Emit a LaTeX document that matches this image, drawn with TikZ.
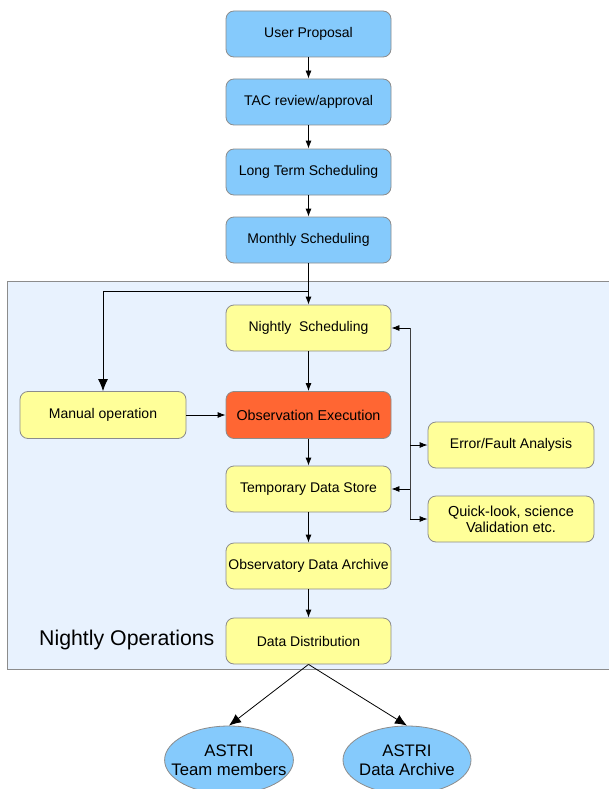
\documentclass[tikz,border=0pt]{standalone}
\usepackage{fontspec}
\setmainfont{Liberation Sans}
\usetikzlibrary{arrows.meta,shapes.geometric}
\definecolor{boxblue}{HTML}{85CAFC}
\definecolor{boxyellow}{HTML}{FFFF99}
\definecolor{boxorange}{HTML}{FF6633}
\definecolor{panel}{HTML}{E8F2FE}
\definecolor{edge}{HTML}{8C8C8C}
\tikzset{
  base/.style={draw=edge, line width=0.8pt, rounded corners=8pt, minimum width=165pt, minimum height=46pt, font=\fontsize{14}{16}\selectfont, align=center, inner sep=1pt},
  bluebox/.style={base, fill=boxblue},
  yelbox/.style={base, fill=boxyellow},
  orbox/.style={base, fill=boxorange},
  oval/.style={draw=edge, line width=0.8pt, ellipse, fill=boxblue, minimum width=128pt, minimum height=68pt, font=\fontsize{16.7}{19}\selectfont, align=center, inner xsep=-12pt, inner ysep=0pt},
  conn/.style={draw=black, line width=0.8pt, -{Latex[length=8pt,width=6pt]}},
  bigconn/.style={draw=black, line width=0.8pt, -{Latex[length=12pt,width=10pt]}}
}
\begin{document}
\begin{tikzpicture}[x=1pt,y=-1pt]
\useasboundingbox (0,0) rectangle (608,789);
\fill[white] (0,0) rectangle (608,789);
\draw[draw=edge, fill=panel, line width=0.8pt] (7,281) rectangle (612,669);
\node[font=\fontsize{21.3}{24}\selectfont, anchor=west, inner sep=0pt] (lbl) at (39,640) {Nightly Operations};

\node[bluebox] (up) at (308.5,34) {User Proposal};
\node[bluebox] (tac) at (308.5,102) {TAC review/approval};
\node[bluebox] (lts) at (308.5,172) {Long Term Scheduling};
\node[bluebox] (ms) at (308.5,240) {Monthly Scheduling};

\node[yelbox] (ns) at (308.5,328) {Nightly\ \ Scheduling};
\node[yelbox, minimum width=166pt, minimum height=47pt] (mo) at (103,415) {Manual operation};
\node[orbox, minimum height=47pt, font=\fontsize{14.3}{16}\selectfont] (oe) at (308.5,415) {Observation Execution};
\node[yelbox] (tds) at (308.5,489) {Temporary Data Store};
\node[yelbox] (oda) at (308.5,566) {Observatory Data Archive};
\node[yelbox] (dd) at (308.5,641) {Data Distribution};
\node[yelbox, minimum width=166pt] (efa) at (511,445) {Error/Fault Analysis};
\node[yelbox, minimum width=166pt, font=\fontsize{14.5}{16}\selectfont] (ql) at (511,519) {Quick-look, science\\ Validation etc.};

\node[oval] (atm) at (229,760) {ASTRI\\Team members};
\node[oval] (ada) at (407,760) {ASTRI\\Data Archive};

\draw[conn] (up) -- (tac);
\draw[conn] (tac) -- (lts);
\draw[conn] (lts) -- (ms);
\draw[conn] (ms) -- (ns);
\coordinate (br) at (ms.south |- 0,291);
\draw[bigconn] (br) -| (mo.north);
\draw[conn] (mo) -- (oe);
\draw[conn] (ns) -- (oe);
\draw[conn] (oe) -- (tds);
\draw[conn] (tds) -- (oda);
\draw[conn] (oda) -- (dd);

\coordinate (vt) at (410,328);
\coordinate (vb) at (410,519);
\draw[line width=0.8pt, draw=black!75] (vt) -- (vb);
\draw[conn] (vt) -- (ns.east);
\draw[conn] (vt |- efa) -- (efa.west);
\draw[conn] (vt |- tds) -- (tds.east);
\draw[conn] (vb) -- (ql.west);

\draw[bigconn] (dd.south) -- (atm.north);
\draw[bigconn] (dd.south) -- (ada.north);
\end{tikzpicture}
\end{document}
